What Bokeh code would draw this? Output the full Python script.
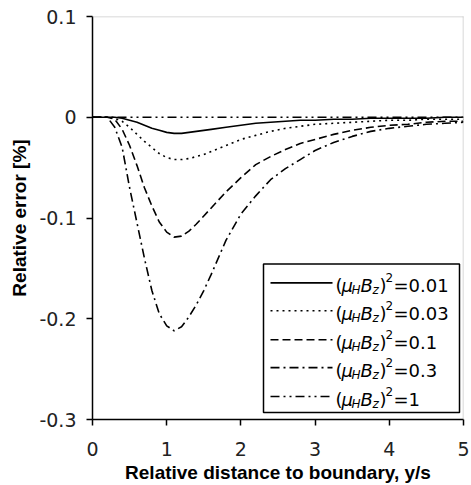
from bokeh.plotting import figure
from bokeh.models import Range1d, FixedTicker, CustomJSTickFormatter, Span, ColumnDataSource
from bokeh.core.properties import value
from bokeh.embed import file_html
from bokeh.resources import INLINE

# ---- data ----
x_vals = [0, 0.2, 0.3, 0.4, 0.5, 0.6, 0.7, 0.8, 0.9, 1.0, 1.1, 1.2, 1.3, 1.4, 1.5, 1.6,
          1.8, 2.0, 2.2, 2.4, 2.6, 2.8, 3.0, 3.25, 3.5, 3.75, 4.0, 4.25, 4.5, 4.75, 5.0]
err_001 = [0, 0, 0, -0.001, -0.003, -0.005, -0.008, -0.011, -0.013, -0.015, -0.016, -0.016,
           -0.015, -0.014, -0.013, -0.012, -0.010, -0.008, -0.006, -0.005, -0.004, -0.003,
           -0.003, -0.002, -0.002, -0.001, -0.001, -0.001, -0.001, 0, 0]
err_003 = [0, 0, -0.001, -0.004, -0.010, -0.017, -0.024, -0.030, -0.036, -0.040, -0.042, -0.042,
           -0.041, -0.039, -0.037, -0.034, -0.028, -0.022, -0.018, -0.014, -0.011, -0.009,
           -0.007, -0.006, -0.005, -0.004, -0.003, -0.003, -0.002, -0.002, -0.002]
err_01 = [0, 0, -0.002, -0.012, -0.028, -0.048, -0.070, -0.088, -0.104, -0.114, -0.119, -0.118,
          -0.113, -0.106, -0.098, -0.090, -0.074, -0.060, -0.047, -0.039, -0.032, -0.026,
          -0.022, -0.017, -0.013, -0.010, -0.008, -0.007, -0.005, -0.004, -0.004]
err_03 = [0, 0, -0.010, -0.030, -0.070, -0.105, -0.140, -0.172, -0.195, -0.207, -0.212, -0.208,
          -0.198, -0.186, -0.172, -0.156, -0.122, -0.096, -0.078, -0.062, -0.051, -0.042,
          -0.033, -0.025, -0.019, -0.014, -0.011, -0.009, -0.007, -0.006, -0.005]
err_1 = [0] * len(x_vals)

series = [err_001, err_003, err_01, err_03, err_1]
legend_values = ["=0.01", "=0.03", "=0.1", "=0.3", "=1"]
dashes = ["solid", "2 4", "8 4", "9 4 2 4", "9 4 2 4 2 4"]

y_ticks = [-0.3, -0.2, -0.1, 0, 0.1]
x_ticks = [0, 1, 2, 3, 4, 5]

# ---- figure ----
p = figure(width=471, height=485, output_backend="svg", toolbar_location=None,
           x_range=Range1d(0, 5), y_range=Range1d(-0.3, 0.1),
           min_border_left=92, min_border_right=8, min_border_top=16, min_border_bottom=65)
p.outline_line_color = None
p.grid.visible = False
p.background_fill_color = "white"

fmt = CustomJSTickFormatter(code="return tick.toFixed(1).replace(/\\.0$/, '');")
fmt_x = CustomJSTickFormatter(code="return tick.toFixed(0);")
for ax in (p.xaxis[0], p.yaxis[0]):
    ax.axis_line_width = 1.5
    ax.axis_line_color = "black"
    ax.major_tick_line_color = "black"
    ax.major_tick_line_width = 1.5
    ax.major_tick_out = 6
    ax.major_tick_in = 0
    ax.minor_tick_line_color = None
    ax.major_label_text_font = "DejaVu Sans"
    ax.major_label_text_font_size = "19px"
    ax.major_label_text_color = "#222222"
    ax.axis_label_text_font = "Liberation Sans"
    ax.axis_label_text_font_size = "19px"
    ax.axis_label_text_font_style = "bold"
    ax.axis_label_text_color = "black"

p.yaxis.ticker = FixedTicker(ticks=y_ticks)
p.yaxis.formatter = fmt
p.yaxis.major_label_standoff = 10
p.yaxis.axis_label = "Relative error [%]"
p.yaxis.axis_label_standoff = 6

p.xaxis.ticker = FixedTicker(ticks=x_ticks)
p.xaxis.formatter = fmt_x
p.xaxis.major_label_standoff = 16
p.xaxis.axis_label = "Relative distance to boundary, y/s"
p.xaxis.axis_label_standoff = 3

# top / right dotted gray borders
p.add_layout(Span(location=0.1, dimension="width", line_color="#999999", line_dash="1 1", line_width=1.5))
p.add_layout(Span(location=5, dimension="height", line_color="#999999", line_dash="1 1", line_width=1.5))

# curves
for ys, d in zip(series, dashes):
    p.line(x_vals, ys, line_color="black", line_width=1.6, line_dash=d)

# ---- manual legend (positions converted from window pixels) ----
def fx(px):
    return (px - 92) / 74.2

def fy(py):
    return 0.1 - (py - 16) / 1010.0

p.quad(left=[fx(263)], right=[fx(459)], top=[fy(264)], bottom=[fy(413)],
       fill_color="white", line_color="black", line_width=1.5)

row_px = [283, 311, 340, 368, 397]
for r, d in zip(row_px, dashes):
    p.segment(x0=[fx(270)], y0=[fy(r)], x1=[fx(332)], y1=[fy(r)],
              line_color="black", line_width=1.6, line_dash=d)

rows_y = [fy(r) for r in row_px]
ax0 = [fx(335)] * len(rows_y)
src = ColumnDataSource(dict(x=ax0, y=rows_y, v=legend_values))

def piece(txt, xo, yo, size, style):
    p.text(x="x", y="y", text=value(txt), source=src, x_offset=xo, y_offset=yo,
           text_font=value("DejaVu Sans"), text_font_size=size, text_font_style=style,
           text_color="black", text_baseline="alphabetic", text_align="left")

piece("(", 0, 3, "18px", "normal")
piece("\u03bc", 6, 3, "18px", "italic")
piece("H", 16, 7, "12px", "italic")
piece("B", 25, 3, "18px", "italic")
piece("z", 37, 7, "12px", "italic")
piece(")", 44, 3, "18px", "normal")
piece("2", 50, -5, "12px", "normal")
p.text(x="x", y="y", text="v", source=src, x_offset=58, y_offset=3,
       text_font=value("DejaVu Sans"), text_font_size="18px",
       text_color="black", text_baseline="alphabetic", text_align="left")

open("out.html", "w").write(file_html(p, INLINE))
